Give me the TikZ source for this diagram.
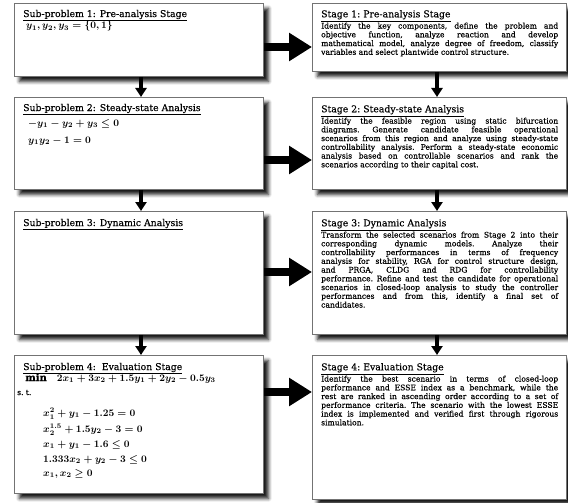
\documentclass[tikz,border=0pt]{standalone}
\usepackage{fontspec}
\setmainfont{DejaVu Serif}[FakeBold=0.35]
\usetikzlibrary{arrows.meta,shadows.blur}

% fonts for headings, running text and formulas
\newcommand{\hdfont}{\fontsize{9.3}{10.5}\selectfont}
\newcommand{\txfont}{\fontsize{7.6}{8.75}\selectfont\frenchspacing}
\newcommand{\eqfont}{\fontsize{10}{11.5}\selectfont\boldmath}
\newcommand{\hd}[1]{{\hdfont\underline{#1}\par}\vspace{0.4pt}}

\begin{document}
\begin{tikzpicture}[x=1pt,y=-1pt,
  stagebox/.style={draw=black!55, line width=0.8pt, fill=white, rectangle,
    inner sep=0pt, anchor=north west,
    blur shadow={shadow xshift=5pt, shadow yshift=-5pt,
      shadow blur radius=3.5pt, shadow opacity=90}},
  leftbox/.style={stagebox, minimum width=249pt},
  rightbox/.style={stagebox, minimum width=254pt},
  stagetext/.style={anchor=north west, inner sep=0pt, text width=237pt,
    align=justify, font=\txfont},
  heading/.style={anchor=base west, inner sep=0pt, font=\hdfont},
  formula/.style={anchor=base west, inner sep=0pt, font=\eqfont},
  hflow/.style={line width=8pt, -{Triangle[length=23pt,width=27pt]}},
  vflow/.style={line width=4pt, -{Triangle[length=9pt,width=11pt]}}]

\useasboundingbox (0,0) rectangle (568,503);

% ---- sub-problem boxes (left column) ----
\node[leftbox, minimum height=73pt]  (L1) at (14,3)   {};
\node[leftbox, minimum height=92pt]  (L2) at (14,97)  {};
\node[leftbox, minimum height=123pt] (L3) at (14,211) {};
\node[leftbox, minimum height=138pt] (L4) at (14,355) {};

% ---- stage boxes (right column) ----
\node[rightbox, minimum height=68pt]  (R1) at (312,3)   {};
\node[rightbox, minimum height=92pt]  (R2) at (312,97)  {};
\node[rightbox, minimum height=123pt] (R3) at (312,211) {};
\node[rightbox, minimum height=144pt] (R4) at (312,355) {};

% ---- sub-problem contents ----
\node[heading] (L1h) at (23,17) {\underline{Sub-problem 1: Pre-analysis Stage}};
\node[formula] (L1a) at (26,29) {$y_1, y_2, y_3 = \{0,1\}$};

\node[heading] (L2h) at (23,111) {\underline{Sub-problem 2: Steady-state Analysis}};
\node[formula] (L2a) at (28,126) {$-y_1 - y_2 + y_3 \le 0$};
\node[formula] (L2b) at (28,143) {$y_1 y_2 - 1 = 0$};

\node[heading] (L3h) at (23,226) {\underline{Sub-problem 3: Dynamic Analysis}};

\node[heading] (L4h) at (23,370) {\underline{Sub-problem 4:\ \ Evaluation Stage}};
\node[formula] (L4o) at (25,381) {\textbf{min}\quad $2x_1 + 3x_2 + 1.5y_1 + 2y_2 - 0.5y_3$};
\node[formula, font=\txfont] (L4s) at (17,395) {s.\ t.};
\node[formula] (L4c1) at (43,416) {$x_1^2 + y_1 - 1.25 = 0$};
\node[formula] (L4c2) at (43,432) {$x_2^{1.5} + 1.5y_2 - 3 = 0$};
\node[formula] (L4c3) at (43,447) {$x_1 + y_1 - 1.6 \le 0$};
\node[formula] (L4c4) at (43,462) {$1.333x_2 + y_2 - 3 \le 0$};
\node[formula] (L4c5) at (43,476) {$x_1, x_2 \ge 0$};

% ---- stage contents ----
\node[stagetext] (R1t) at (321,10) {\hd{Stage 1: Pre-analysis Stage}
Identify the key components, define the problem and\linebreak
objective function, analyze reaction and develop\linebreak
mathematical model, analyze degree of freedom, classify\linebreak
variables and select plantwide control structure.\par};

\node[stagetext] (R2t) at (321,105) {\hd{Stage 2: Steady-state Analysis}
Identify the feasible region using static bifurcation\linebreak
diagrams. Generate candidate feasible operational\linebreak
scenarios from this region and analyze using steady-state\linebreak
controllability analysis. Perform a steady-state economic\linebreak
analysis based on controllable scenarios and rank the\linebreak
scenarios according to their capital cost.\par};

\node[stagetext] (R3t) at (321,219) {\hd{Stage 3: Dynamic Analysis}
Transform the selected scenarios from Stage 2 into their\linebreak
corresponding dynamic models. Analyze their\linebreak
controllability performances in terms of frequency\linebreak
analysis for stability, RGA for control structure design,\linebreak
and PRGA, CLDG and RDG for controllability\linebreak
performance. Refine and test the candidate for operational\linebreak
scenarios in closed-loop analysis to study the controller\linebreak
performances and from this, identify a final set of\linebreak
candidates.\par};

\node[stagetext] (R4t) at (321,363) {\hd{Stage 4: Evaluation Stage}
Identify the best scenario in terms of closed-loop\linebreak
performance and ESSE index as a benchmark, while the\linebreak
rest are ranked in ascending order according to a set of\linebreak
performance criteria. The scenario with the lowest ESSE\linebreak
index is implemented and verified first through rigorous\linebreak
simulation.\par};

% ---- connectors ----
\coordinate (lx) at (141,0);
\coordinate (rx) at (437,0);
\coordinate (h1) at (0,47);
\coordinate (h2) at (0,160);
\coordinate (h3) at (0,272);
\coordinate (h4) at (0,392);

\draw[hflow] (L1.east |- h1) -- (R1.west |- h1);
\draw[hflow] (L2.east |- h2) -- (R2.west |- h2);
\draw[hflow] (L3.east |- h3) -- (R3.west |- h3);
\draw[hflow] (L4.east |- h4) -- (R4.west |- h4);

\draw[vflow] (L1.south -| lx) -- (L2.north -| lx);
\draw[vflow] (L2.south -| lx) -- (L3.north -| lx);
\draw[vflow] (L3.south -| lx) -- (L4.north -| lx);
\draw[vflow] (R1.south -| rx) -- (R2.north -| rx);
\draw[vflow] (R2.south -| rx) -- (R3.north -| rx);
\draw[vflow] (R3.south -| rx) -- (R4.north -| rx);
\end{tikzpicture}
\end{document}
